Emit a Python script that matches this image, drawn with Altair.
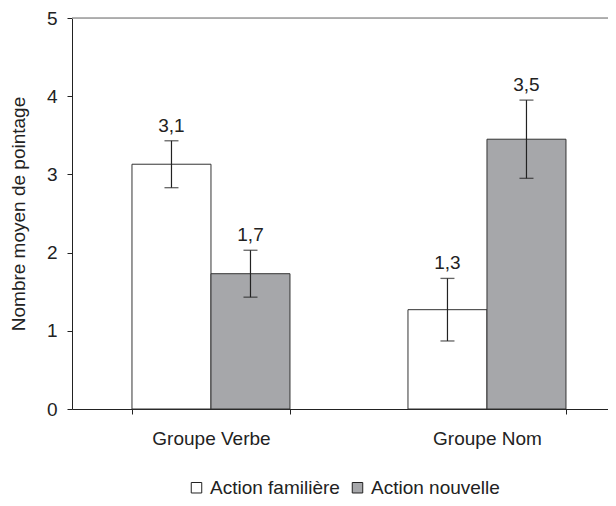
import altair as alt
import pandas as pd

groups = ["Groupe Verbe", "Groupe Verbe", "Groupe Nom", "Groupe Nom"]
conditions = ["Action familière", "Action nouvelle", "Action familière", "Action nouvelle"]
means = [3.13, 1.73, 1.27, 3.45]
errors = [0.30, 0.30, 0.40, 0.50]
labels = ["3,1", "1,7", "1,3", "3,5"]

group_order = ["Groupe Verbe", "Groupe Nom"]
cond_order = ["Action familière", "Action nouvelle"]
cond_colors = ["#ffffff", "#a6a7aa"]

df = pd.DataFrame({
    "groupe": groups,
    "condition": conditions,
    "moyenne": means,
    "erreur": errors,
    "label": labels,
})
df["bas"] = df["moyenne"] - df["erreur"]
df["haut"] = df["moyenne"] + df["erreur"]

FONT = "Liberation Sans"
FS = 19
TXT = "#222222"

x_enc = alt.X(
    "groupe:N",
    sort=group_order,
    title=None,
    scale=alt.Scale(paddingInner=0.4275, paddingOuter=0.1848, align=0.588),
    axis=alt.Axis(
        labelAngle=0, labelFontSize=FS, labelFont=FONT, labelColor=TXT,
        labelPadding=15, tickBand="extent", tickSize=5, tickColor="#222222",
        domainColor="#222222", domainWidth=1, labelLimit=300,
    ),
)
xo_enc = alt.XOffset("condition:N", sort=cond_order, scale=alt.Scale(paddingInner=0, paddingOuter=0))
y_scale = alt.Scale(domain=[0, 5], nice=False)

base = alt.Chart(df)

bars = base.mark_bar(stroke="#333333", strokeWidth=1).encode(
    x=x_enc,
    xOffset=xo_enc,
    y=alt.Y(
        "moyenne:Q", scale=y_scale, title="Nombre moyen de pointage",
        axis=alt.Axis(
            values=[0, 1, 2, 3, 4, 5], format="d", grid=False, tickSize=5, tickColor="#222222",
            domainColor="#222222", labelFontSize=FS, labelFont=FONT, labelColor=TXT,
            labelPadding=10, titleFontSize=FS, titleFont=FONT, titleColor=TXT,
            titleFontWeight="normal", titlePadding=18,
        ),
    ),
    color=alt.Color(
        "condition:N", sort=cond_order,
        scale=alt.Scale(domain=cond_order, range=cond_colors),
        legend=alt.Legend(
            title=None, orient="none", legendX=115, legendY=460, direction="horizontal",
            symbolType="square", symbolSize=110, symbolStrokeColor="#222222",
            symbolStrokeWidth=1, labelFontSize=FS, labelFont=FONT, labelColor=TXT,
            labelOffset=4, columnPadding=8, labelLimit=300,
        ),
    ),
)

rules = base.mark_rule(color="#222222", strokeWidth=1.2).encode(
    x=x_enc, xOffset=xo_enc, y=alt.Y("bas:Q", scale=y_scale), y2="haut:Q"
)
tick_lo = base.mark_tick(color="#222222", thickness=1.3, size=14).encode(
    x=x_enc, xOffset=xo_enc, y=alt.Y("bas:Q", scale=y_scale)
)
tick_hi = base.mark_tick(color="#222222", thickness=1.3, size=14).encode(
    x=x_enc, xOffset=xo_enc, y=alt.Y("haut:Q", scale=y_scale)
)
texts = base.mark_text(baseline="alphabetic", dy=-9, fontSize=FS, font=FONT, color=TXT).encode(
    x=x_enc, xOffset=xo_enc, y=alt.Y("haut:Q", scale=y_scale), text="label:N"
)
top_line = alt.Chart(pd.DataFrame({"v": [5]})).mark_rule(color="#9a9a9a", strokeWidth=1.5).encode(
    y=alt.Y("v:Q", scale=y_scale)
)

chart = alt.layer(top_line, bars, rules, tick_lo, tick_hi, texts).properties(
    width=536, height=391,
    autosize=alt.AutoSizeParams(type="none"),
    padding={"left": 64, "top": 10, "right": 0, "bottom": 89},
).configure_view(stroke=None).configure(background="white")

chart.save("out.html", embed_options={"renderer": "svg", "actions": False})
